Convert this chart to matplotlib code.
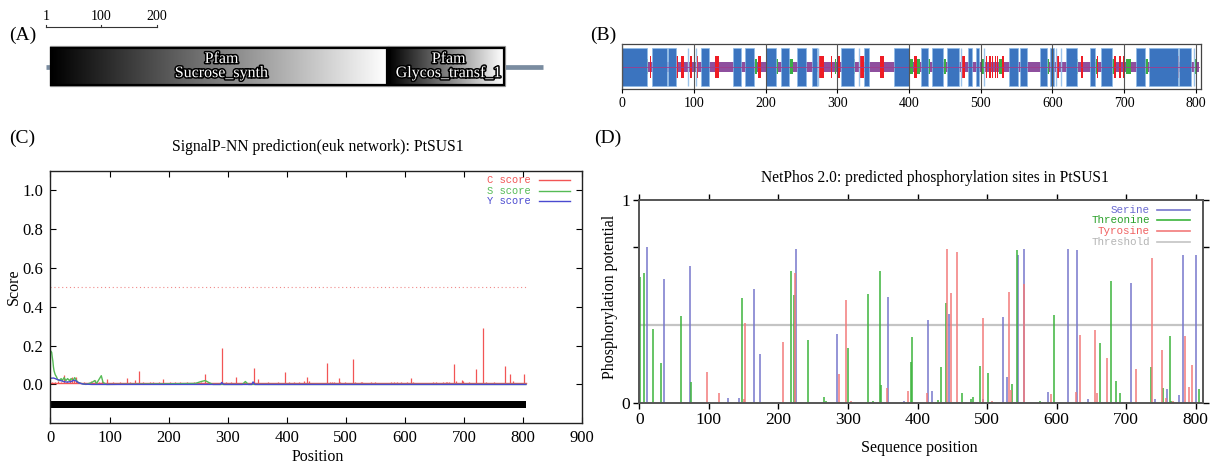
"""
PtSUS1 protein figure: (A) Pfam domains, (B) secondary structure,
(C) SignalP-NN scores, (D) NetPhos 2.0 phosphorylation sites
"""
import numpy as np
import matplotlib
matplotlib.use("Agg")
import matplotlib.pyplot as plt
from matplotlib.patches import Rectangle
from matplotlib.lines import Line2D
from matplotlib import patheffects as pe

plt.rcParams["font.family"] = ["Liberation Serif", "DejaVu Serif"]
MONO = ["Liberation Mono", "DejaVu Sans Mono"]

W, H = 1215, 466

# ---------------- (A) domain map
prot_len = 892
dom_names = ["Pfam\nSucrose_synth", "Pfam\nGlycos_transf_1"]
dom_start = [10, 616]
dom_end = [613, 821]
scale_ticks = [1, 100, 200]

# ---------------- (B) secondary structure (start, end)
ss_len = 805
helix = [(0, 34), (41, 62), (64, 75), (110, 121), (154, 166), (171, 184), (200, 215),
         (222, 232), (243, 256), (264, 271), (305, 323), (337, 344), (379, 400),
         (416, 426), (431.5, 447), (453, 470), (482.5, 488), (492.7, 498), (539, 551.5),
         (555, 564.5), (582, 592), (596, 602.5), (618.7, 634), (652.5, 659.5),
         (668, 683.6), (716, 729), (734.6, 775), (776, 793)]
helix_single = [92, 103, 273, 330.5, 473, 505, 605, 612, 797]
strand = [(38, 39.5), (75.5, 77), (81.5, 86), (94, 97), (103, 105), (129, 135), (189, 193),
          (274.5, 281.5), (291.5, 292.5), (300, 303), (331.5, 337), (360, 365), (407, 411.6),
          (423, 424.5), (472, 478), (507.5, 508.5), (512, 514), (516, 517.7), (519.5, 521.4),
          (523.2, 524.2), (529.8, 532), (604.8, 608.5), (639.6, 643), (662, 664), (686, 688),
          (693, 695.6), (699, 701), (775.5, 776.5)]
turn = [(34, 36), (185.5, 188), (215, 217), (232.5, 238), (269, 271), (296.5, 298.5),
        (322, 324.5), (339.5, 343), (401, 405), (411.6, 414.8), (427, 429.7), (448.7, 451),
        (501, 505.6), (525, 530), (593, 594.6), (634, 636), (660.4, 662.7), (682.7, 685.4),
        (702, 709.5), (728, 732.7), (797.6, 801)]

# ---------------- (C) SignalP-NN
sp_len = 805
c_base = 0.005
c_pos = [3, 8, 13, 18, 23, 28, 33, 36, 40, 43, 48, 57, 68, 75, 82, 87, 95, 106, 117, 129,
         135, 143, 150, 157, 168, 174, 183, 190, 203, 211, 220, 231, 243, 255, 262, 288, 290,
         297, 305, 314, 328, 345, 351, 368, 385, 397, 404, 413, 421, 430, 434, 437, 469, 474,
         477, 480, 489, 491, 499, 513, 516, 525, 528, 542, 550, 576, 582, 587, 593, 604, 611,
         613, 647, 652, 664, 669, 672, 675, 684, 687, 696, 699, 709, 720, 733, 737, 751, 769,
         778, 783, 801]
c_val = [0.012, 0.015, 0.02, 0.015, 0.047, 0.02, 0.03, 0.04, 0.025, 0.04, 0.015, 0.012, 0.02,
         0.025, 0.014, 0.02, 0.03, 0.015, 0.012, 0.035, 0.012, 0.025, 0.069, 0.012, 0.012,
         0.015, 0.012, 0.027, 0.012, 0.01, 0.012, 0.01, 0.012, 0.015, 0.055, 0.015, 0.186,
         0.015, 0.012, 0.036, 0.015, 0.085, 0.03, 0.012, 0.012, 0.065, 0.012, 0.012, 0.015,
         0.02, 0.038, 0.02, 0.108, 0.012, 0.012, 0.012, 0.035, 0.012, 0.01, 0.132, 0.012,
         0.012, 0.012, 0.015, 0.01, 0.01, 0.01, 0.01, 0.01, 0.01, 0.035, 0.012, 0.015, 0.01,
         0.012, 0.012, 0.012, 0.012, 0.105, 0.02, 0.025, 0.02, 0.01, 0.08, 0.292, 0.015,
         0.01, 0.093, 0.055, 0.02, 0.055]
s_pos = [1, 2, 3, 4, 5, 6, 8, 10, 12, 15, 18, 20, 23, 26, 29, 32, 35, 38, 41, 44, 47, 52,
         60, 70, 75, 78, 83, 86, 89, 95, 245, 255, 262, 268, 275, 325, 330, 335, 805]
s_val = [0.17, 0.165, 0.14, 0.12, 0.09, 0.07, 0.05, 0.04, 0.025, 0.02, 0.03, 0.02, 0.035,
         0.02, 0.03, 0.02, 0.03, 0.02, 0.035, 0.02, 0.01, 0.005, 0.0, 0.01, 0.02, 0.005,
         0.03, 0.045, 0.01, 0.0, 0.005, 0.015, 0.02, 0.01, 0.0, 0.0, 0.015, 0.0, 0.0]
y_pos = [1, 5, 8, 12, 17, 22, 28, 35, 40, 43, 48, 55, 70, 288, 290, 293, 341, 343, 346, 805]
y_val = [0.032, 0.033, 0.03, 0.025, 0.02, 0.015, 0.012, 0.015, 0.022, 0.018, 0.008, 0.002,
         0.0, 0.0, 0.01, 0.0, 0.0, 0.013, 0.0, 0.0]
c_threshold = 0.5
sp_labels = ["C score", "S score", "Y score"]
sp_colors = ["#f25555", "#55bb55", "#4a4ad0"]

# ---------------- (D) NetPhos 2.0
ser_pos = [11, 36, 73.5, 127, 144, 165.6, 173.8, 203, 225.6, 283.7, 358, 380.7, 414.5, 420.7,
           445.7, 459, 486, 494.7, 523, 528.8, 543.8, 552.9, 587, 616.3, 629.8, 645, 707,
           740.9, 758, 775.5, 782, 800]
ser_val = [0.770, 0.610, 0.675, 0.026, 0.028, 0.562, 0.243, 0.005, 0.757, 0.339, 0.525, 0.01,
           0.411, 0.061, 0.439, 0.005, 0.005, 0.023, 0.426, 0.131, 0.728, 0.761, 0.056, 0.761,
           0.752, 0.021, 0.590, 0.023, 0.070, 0.041, 0.728, 0.728]
thr_pos = [1.4, 6.7, 19, 31, 60.5, 74.4, 148, 217.5, 222.8, 243, 265.5, 268, 300.5, 329, 336,
           345.7, 347, 390, 391.7, 430, 433.6, 441.3, 464, 470, 477.4, 480, 490, 501.4, 535.6,
           542.8, 576, 596.6, 663, 678, 685, 691.8, 735, 753, 762.5, 765, 804.8]
thr_val = [0.620, 0.643, 0.364, 0.198, 0.430, 0.103, 0.520, 0.649, 0.534, 0.311, 0.033, 0.013,
           0.274, 0.539, 0.01, 0.652, 0.09, 0.203, 0.326, 0.016, 0.179, 0.492, 0.051, 0.005,
           0.02, 0.033, 0.184, 0.148, 0.093, 0.752, 0.013, 0.434, 0.297, 0.602, 0.108, 0.051,
           0.179, 0.074, 0.331, 0.01, 0.069]
tyr_pos = [97, 114.7, 151, 152, 206, 224, 287.6, 297, 305, 355.7, 387, 413.8, 442.8, 448.6,
           456.7, 494, 507, 531.7, 534, 553.8, 592, 628.4, 633.7, 655.8, 658.7, 673, 714,
           736.5, 751.4, 757, 767, 785, 790, 794.7]
tyr_val = [0.156, 0.051, 0.023, 0.397, 0.302, 0.643, 0.146, 0.507, 0.013, 0.074, 0.061, 0.051,
           0.761, 0.543, 0.744, 0.421, 0.013, 0.548, 0.066, 0.587, 0.046, 0.056, 0.336, 0.359,
           0.051, 0.221, 0.169, 0.715, 0.264, 0.026, 0.01, 0.331, 0.080, 0.190]
np_threshold = 0.385
np_labels = ["Serine", "Threonine", "Tyrosine", "Threshold"]
np_colors = ["#7676cc", "#3cb43c", "#f27a7a", "#c4c4c4"]
np_text_colors = ["#6a6ad0", "#2aa02a", "#f06060", "#b4b4b4"]


def box(l, t, r, b):
    return [l / W, 1 - b / H, (r - l) / W, (b - t) / H]


def ftext(x, y, s, **kw):
    fig.text(x / W, 1 - y / H, s, **kw)


def fline(x1, x2, y, **kw):
    fig.add_artist(Line2D([x1 / W, x2 / W], [1 - y / H, 1 - y / H], **kw))


fig = plt.figure(figsize=(W / 100, H / 100), dpi=100)

# ===== (A)
axa = fig.add_axes(box(39.86, 0, 569.96, 100))
axa.axis("off")
axa.plot([1, prot_len], [66.7, 66.7], color="#7a8ca0", lw=3.4, solid_capstyle="butt", zorder=1)
grad = np.linspace(0, 1, 256)[None, :]
for name, s, e in zip(dom_names, dom_start, dom_end):
    axa.add_patch(Rectangle((s - 2, 46.3), e - s + 4, 40.1, fill=False, ec="#9a9a9a", lw=0.9, zorder=2))
    axa.imshow(grad, cmap="gray", extent=(s, e, 85, 47.7), aspect="auto", zorder=2)
    axa.add_patch(Rectangle((s, 47.7), e - s, 37.3, fill=False, ec="black", lw=1.6, zorder=3))
    axa.text((s + e) / 2 + 4, 66, name, ha="center", va="center", color="white", fontsize=11.5,
             linespacing=0.85, zorder=4,
             path_effects=[pe.withStroke(linewidth=2.2, foreground="black")])
axa.plot([scale_ticks[0], scale_ticks[-1]], [27.3, 27.3], color="#333", lw=0.8)
for t in scale_ticks:
    axa.plot([t, t], [25.3, 27.3], color="#333", lw=0.8)
    axa.text(t, 16, str(t), ha="center", va="center", fontsize=10)
axa.set_xlim(-10, 940)
axa.set_ylim(100, 0)

# ===== (B)
axb = fig.add_axes(box(621.7, 44.3, 1200.7, 88.5))
axb.broken_barh([(0, ss_len)], (0.38, 0.23), facecolors="#8e4f9e")
axb.broken_barh([(s, e - s) for s, e in turn], (0.32, 0.35), facecolors="#3aae46")
axb.broken_barh([(s, e - s) for s, e in strand], (0.24, 0.50), facecolors="#ee1c25")
axb.broken_barh([(s, e - s) for s, e in helix], (0.06, 0.85), facecolors="#3b74bf",
                edgecolors="#8fbbe8", linewidth=0.5)
axb.vlines(helix_single, 0.06, 0.91, color="#9cc3ea", lw=1.0)
axb.plot([0, ss_len], [0.49, 0.49], color="#a03c8c", lw=0.6)
axb.set_xlim(-0.84, 806.7)
axb.set_ylim(0, 1)
axb.set_yticks([])
axb.set_xticks(range(0, 801, 100))
axb.grid(axis="x", color="#555", lw=0.8)
axb.set_axisbelow(False)
axb.tick_params(axis="x", direction="out", length=3, width=0.8, labelsize=10, pad=3)
for sp in axb.spines.values():
    sp.set_color("#444")
    sp.set_linewidth(0.9)

# ===== (C)
axc = fig.add_axes(box(50.5, 170.7, 582, 423.3))
axc.plot([0, sp_len], [c_threshold, c_threshold], color="#f08a8a", lw=0.8, ls=(0, (1, 2.5)))
axc.fill_between([0, sp_len + 1], -0.122, -0.083, color="black", lw=0)
axc.plot([1, sp_len], [c_base, c_base], color=sp_colors[0], lw=1.0)
axc.vlines(c_pos, c_base, c_val, color=sp_colors[0], lw=0.9)
axc.plot(s_pos, s_val, color=sp_colors[1], lw=1.0)
axc.plot(y_pos, y_val, color=sp_colors[2], lw=1.0)
axc.set_xlim(0, 900)
axc.set_ylim(-0.2, 1.1)
axc.set_xticks(range(0, 901, 100))
yt = np.arange(0, 1.01, 0.2)
axc.set_yticks(yt)
axc.set_yticklabels([f"{v:.1f}" for v in yt])
axc.tick_params(direction="in", top=True, right=True, length=4, width=0.8, labelsize=12, pad=5)
for sp in axc.spines.values():
    sp.set_color("#222")
    sp.set_linewidth(1.0)
for lab, col, yy in zip(sp_labels, sp_colors, [180.3, 190.7, 200.7]):
    ftext(531, yy, lab, ha="right", va="center", color=col, fontsize=7.5, family=MONO)
    fline(539, 570, yy, color=col, lw=1.0)
ftext(317.6, 146.7, "SignalP-NN prediction(euk network): PtSUS1", ha="center", va="center", fontsize=11.3)
ftext(318, 457, "Position", ha="center", va="center", fontsize=11.5)
ftext(14, 286.7, "Score", ha="center", va="center", rotation=90, fontsize=11.5)

# ===== (D)
axd = fig.add_axes(box(639.3, 200, 1202.7, 403.3))
axd.axhline(np_threshold, color=np_colors[3], lw=1.6, zorder=1)
axd.vlines(ser_pos, 0, ser_val, color=np_colors[0], lw=1.1, zorder=2)
axd.vlines(thr_pos, 0, thr_val, color=np_colors[1], lw=1.1, zorder=2)
axd.vlines(tyr_pos, 0, tyr_val, color=np_colors[2], lw=1.1, zorder=2)
axd.set_xlim(0, 810)
axd.set_ylim(0, 1)
axd.set_xticks(range(0, 801, 100))
axd.set_yticks([0, 0.77, 1])
axd.set_yticklabels(["0", "", "1"])
axd.tick_params(direction="out", top=True, right=True, length=4.5, width=1.0, labelsize=12.5, pad=2)
for sp in axd.spines.values():
    sp.set_color("#555")
    sp.set_linewidth(1.4)
for lab, col, tcol, yy in zip(np_labels, np_colors, np_text_colors, [210, 220.3, 231, 241.7]):
    ftext(1150, yy, lab, ha="right", va="center", color=tcol, fontsize=7.8, family=MONO)
    fline(1157, 1190, yy, color=col, lw=1.2)
ftext(935, 178.3, "NetPhos 2.0: predicted phosphorylation sites in PtSUS1", ha="center", va="center", fontsize=11.2)
ftext(919, 448, "Sequence position", ha="center", va="center", fontsize=11.5)
ftext(610, 297, "Phosphorylation potential", ha="center", va="center", rotation=90, fontsize=11.5)

# panel letters
for lab, x, y in [("(A)", 9.6, 35.7), ("(B)", 590, 35.7), ("(C)", 9.6, 138), ("(D)", 594, 138)]:
    ftext(x, y, lab, ha="left", va="center", fontsize=14)

fig.savefig("out.png", dpi=100)
